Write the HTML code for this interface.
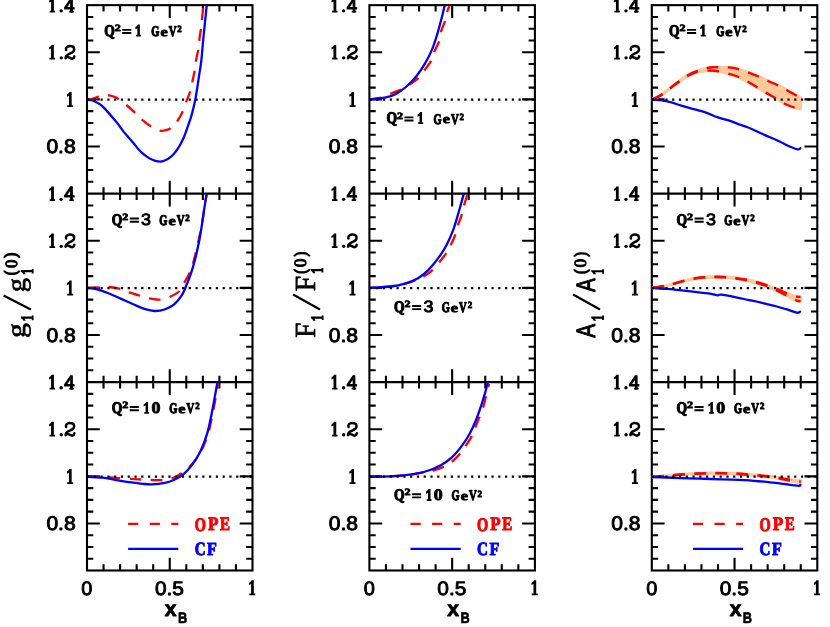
<!DOCTYPE html>
<html><head><meta charset="utf-8"><title>fig</title>
<style>html,body{margin:0;padding:0;background:#fff}svg{display:block;will-change:transform}text{font-kerning:none;text-rendering:geometricPrecision}</style></head>
<body>
<svg width="830" height="627" viewBox="0 0 830 627">
<rect width="830" height="627" fill="#fff"/>
<rect x="87.0" y="5.15" width="165.5" height="565.35" fill="none" stroke="#000" stroke-width="2.1"/>
<line x1="87.0" y1="193.65" x2="252.5" y2="193.65" stroke="#000" stroke-width="2.1"/>
<line x1="87.0" y1="382.1" x2="252.5" y2="382.1" stroke="#000" stroke-width="2.1"/>
<rect x="369.4" y="5.15" width="165.5" height="565.35" fill="none" stroke="#000" stroke-width="2.1"/>
<line x1="369.4" y1="193.65" x2="534.9" y2="193.65" stroke="#000" stroke-width="2.1"/>
<line x1="369.4" y1="382.1" x2="534.9" y2="382.1" stroke="#000" stroke-width="2.1"/>
<rect x="651.8" y="5.15" width="165.5" height="565.35" fill="none" stroke="#000" stroke-width="2.1"/>
<line x1="651.8" y1="193.65" x2="817.3" y2="193.65" stroke="#000" stroke-width="2.1"/>
<line x1="651.8" y1="382.1" x2="817.3" y2="382.1" stroke="#000" stroke-width="2.1"/>
<path d="M103.55,5.15v6.3 M103.55,570.5v-6.3 M103.55,187.35v12.6 M103.55,375.8v12.6 M120.10,5.15v6.3 M120.10,570.5v-6.3 M120.10,187.35v12.6 M120.10,375.8v12.6 M136.65,5.15v6.3 M136.65,570.5v-6.3 M136.65,187.35v12.6 M136.65,375.8v12.6 M153.20,5.15v6.3 M153.20,570.5v-6.3 M153.20,187.35v12.6 M153.20,375.8v12.6 M169.75,5.15v12.8 M169.75,570.5v-12.8 M169.75,180.85v25.6 M169.75,369.3v25.6 M186.30,5.15v6.3 M186.30,570.5v-6.3 M186.30,187.35v12.6 M186.30,375.8v12.6 M202.85,5.15v6.3 M202.85,570.5v-6.3 M202.85,187.35v12.6 M202.85,375.8v12.6 M219.40,5.15v6.3 M219.40,570.5v-6.3 M219.40,187.35v12.6 M219.40,375.8v12.6 M235.95,5.15v6.3 M235.95,570.5v-6.3 M235.95,187.35v12.6 M235.95,375.8v12.6 M87.0,16.93h6.3 M252.5,16.93h-6.3 M87.0,28.71h6.3 M252.5,28.71h-6.3 M87.0,40.48h6.3 M252.5,40.48h-6.3 M87.0,52.26h12.8 M252.5,52.26h-12.8 M87.0,64.04h6.3 M252.5,64.04h-6.3 M87.0,75.82h6.3 M252.5,75.82h-6.3 M87.0,87.60h6.3 M252.5,87.60h-6.3 M87.0,99.38h12.8 M252.5,99.38h-12.8 M87.0,111.15h6.3 M252.5,111.15h-6.3 M87.0,122.93h6.3 M252.5,122.93h-6.3 M87.0,134.71h6.3 M252.5,134.71h-6.3 M87.0,146.49h12.8 M252.5,146.49h-12.8 M87.0,158.27h6.3 M252.5,158.27h-6.3 M87.0,170.04h6.3 M252.5,170.04h-6.3 M87.0,181.82h6.3 M252.5,181.82h-6.3 M87.0,205.43h6.3 M252.5,205.43h-6.3 M87.0,217.21h6.3 M252.5,217.21h-6.3 M87.0,228.98h6.3 M252.5,228.98h-6.3 M87.0,240.76h12.8 M252.5,240.76h-12.8 M87.0,252.54h6.3 M252.5,252.54h-6.3 M87.0,264.32h6.3 M252.5,264.32h-6.3 M87.0,276.10h6.3 M252.5,276.10h-6.3 M87.0,287.88h12.8 M252.5,287.88h-12.8 M87.0,299.65h6.3 M252.5,299.65h-6.3 M87.0,311.43h6.3 M252.5,311.43h-6.3 M87.0,323.21h6.3 M252.5,323.21h-6.3 M87.0,334.99h12.8 M252.5,334.99h-12.8 M87.0,346.77h6.3 M252.5,346.77h-6.3 M87.0,358.54h6.3 M252.5,358.54h-6.3 M87.0,370.32h6.3 M252.5,370.32h-6.3 M87.0,393.88h6.3 M252.5,393.88h-6.3 M87.0,405.66h6.3 M252.5,405.66h-6.3 M87.0,417.43h6.3 M252.5,417.43h-6.3 M87.0,429.21h12.8 M252.5,429.21h-12.8 M87.0,440.99h6.3 M252.5,440.99h-6.3 M87.0,452.77h6.3 M252.5,452.77h-6.3 M87.0,464.55h6.3 M252.5,464.55h-6.3 M87.0,476.33h12.8 M252.5,476.33h-12.8 M87.0,488.10h6.3 M252.5,488.10h-6.3 M87.0,499.88h6.3 M252.5,499.88h-6.3 M87.0,511.66h6.3 M252.5,511.66h-6.3 M87.0,523.44h12.8 M252.5,523.44h-12.8 M87.0,535.22h6.3 M252.5,535.22h-6.3 M87.0,546.99h6.3 M252.5,546.99h-6.3 M87.0,558.77h6.3 M252.5,558.77h-6.3 M385.95,5.15v6.3 M385.95,570.5v-6.3 M385.95,187.35v12.6 M385.95,375.8v12.6 M402.50,5.15v6.3 M402.50,570.5v-6.3 M402.50,187.35v12.6 M402.50,375.8v12.6 M419.05,5.15v6.3 M419.05,570.5v-6.3 M419.05,187.35v12.6 M419.05,375.8v12.6 M435.60,5.15v6.3 M435.60,570.5v-6.3 M435.60,187.35v12.6 M435.60,375.8v12.6 M452.15,5.15v12.8 M452.15,570.5v-12.8 M452.15,180.85v25.6 M452.15,369.3v25.6 M468.70,5.15v6.3 M468.70,570.5v-6.3 M468.70,187.35v12.6 M468.70,375.8v12.6 M485.25,5.15v6.3 M485.25,570.5v-6.3 M485.25,187.35v12.6 M485.25,375.8v12.6 M501.80,5.15v6.3 M501.80,570.5v-6.3 M501.80,187.35v12.6 M501.80,375.8v12.6 M518.35,5.15v6.3 M518.35,570.5v-6.3 M518.35,187.35v12.6 M518.35,375.8v12.6 M369.4,16.93h6.3 M534.9,16.93h-6.3 M369.4,28.71h6.3 M534.9,28.71h-6.3 M369.4,40.48h6.3 M534.9,40.48h-6.3 M369.4,52.26h12.8 M534.9,52.26h-12.8 M369.4,64.04h6.3 M534.9,64.04h-6.3 M369.4,75.82h6.3 M534.9,75.82h-6.3 M369.4,87.60h6.3 M534.9,87.60h-6.3 M369.4,99.38h12.8 M534.9,99.38h-12.8 M369.4,111.15h6.3 M534.9,111.15h-6.3 M369.4,122.93h6.3 M534.9,122.93h-6.3 M369.4,134.71h6.3 M534.9,134.71h-6.3 M369.4,146.49h12.8 M534.9,146.49h-12.8 M369.4,158.27h6.3 M534.9,158.27h-6.3 M369.4,170.04h6.3 M534.9,170.04h-6.3 M369.4,181.82h6.3 M534.9,181.82h-6.3 M369.4,205.43h6.3 M534.9,205.43h-6.3 M369.4,217.21h6.3 M534.9,217.21h-6.3 M369.4,228.98h6.3 M534.9,228.98h-6.3 M369.4,240.76h12.8 M534.9,240.76h-12.8 M369.4,252.54h6.3 M534.9,252.54h-6.3 M369.4,264.32h6.3 M534.9,264.32h-6.3 M369.4,276.10h6.3 M534.9,276.10h-6.3 M369.4,287.88h12.8 M534.9,287.88h-12.8 M369.4,299.65h6.3 M534.9,299.65h-6.3 M369.4,311.43h6.3 M534.9,311.43h-6.3 M369.4,323.21h6.3 M534.9,323.21h-6.3 M369.4,334.99h12.8 M534.9,334.99h-12.8 M369.4,346.77h6.3 M534.9,346.77h-6.3 M369.4,358.54h6.3 M534.9,358.54h-6.3 M369.4,370.32h6.3 M534.9,370.32h-6.3 M369.4,393.88h6.3 M534.9,393.88h-6.3 M369.4,405.66h6.3 M534.9,405.66h-6.3 M369.4,417.43h6.3 M534.9,417.43h-6.3 M369.4,429.21h12.8 M534.9,429.21h-12.8 M369.4,440.99h6.3 M534.9,440.99h-6.3 M369.4,452.77h6.3 M534.9,452.77h-6.3 M369.4,464.55h6.3 M534.9,464.55h-6.3 M369.4,476.33h12.8 M534.9,476.33h-12.8 M369.4,488.10h6.3 M534.9,488.10h-6.3 M369.4,499.88h6.3 M534.9,499.88h-6.3 M369.4,511.66h6.3 M534.9,511.66h-6.3 M369.4,523.44h12.8 M534.9,523.44h-12.8 M369.4,535.22h6.3 M534.9,535.22h-6.3 M369.4,546.99h6.3 M534.9,546.99h-6.3 M369.4,558.77h6.3 M534.9,558.77h-6.3 M668.35,5.15v6.3 M668.35,570.5v-6.3 M668.35,187.35v12.6 M668.35,375.8v12.6 M684.90,5.15v6.3 M684.90,570.5v-6.3 M684.90,187.35v12.6 M684.90,375.8v12.6 M701.45,5.15v6.3 M701.45,570.5v-6.3 M701.45,187.35v12.6 M701.45,375.8v12.6 M718.00,5.15v6.3 M718.00,570.5v-6.3 M718.00,187.35v12.6 M718.00,375.8v12.6 M734.55,5.15v12.8 M734.55,570.5v-12.8 M734.55,180.85v25.6 M734.55,369.3v25.6 M751.10,5.15v6.3 M751.10,570.5v-6.3 M751.10,187.35v12.6 M751.10,375.8v12.6 M767.65,5.15v6.3 M767.65,570.5v-6.3 M767.65,187.35v12.6 M767.65,375.8v12.6 M784.20,5.15v6.3 M784.20,570.5v-6.3 M784.20,187.35v12.6 M784.20,375.8v12.6 M800.75,5.15v6.3 M800.75,570.5v-6.3 M800.75,187.35v12.6 M800.75,375.8v12.6 M651.8,16.93h6.3 M817.3,16.93h-6.3 M651.8,28.71h6.3 M817.3,28.71h-6.3 M651.8,40.48h6.3 M817.3,40.48h-6.3 M651.8,52.26h12.8 M817.3,52.26h-12.8 M651.8,64.04h6.3 M817.3,64.04h-6.3 M651.8,75.82h6.3 M817.3,75.82h-6.3 M651.8,87.60h6.3 M817.3,87.60h-6.3 M651.8,99.38h12.8 M817.3,99.38h-12.8 M651.8,111.15h6.3 M817.3,111.15h-6.3 M651.8,122.93h6.3 M817.3,122.93h-6.3 M651.8,134.71h6.3 M817.3,134.71h-6.3 M651.8,146.49h12.8 M817.3,146.49h-12.8 M651.8,158.27h6.3 M817.3,158.27h-6.3 M651.8,170.04h6.3 M817.3,170.04h-6.3 M651.8,181.82h6.3 M817.3,181.82h-6.3 M651.8,205.43h6.3 M817.3,205.43h-6.3 M651.8,217.21h6.3 M817.3,217.21h-6.3 M651.8,228.98h6.3 M817.3,228.98h-6.3 M651.8,240.76h12.8 M817.3,240.76h-12.8 M651.8,252.54h6.3 M817.3,252.54h-6.3 M651.8,264.32h6.3 M817.3,264.32h-6.3 M651.8,276.10h6.3 M817.3,276.10h-6.3 M651.8,287.88h12.8 M817.3,287.88h-12.8 M651.8,299.65h6.3 M817.3,299.65h-6.3 M651.8,311.43h6.3 M817.3,311.43h-6.3 M651.8,323.21h6.3 M817.3,323.21h-6.3 M651.8,334.99h12.8 M817.3,334.99h-12.8 M651.8,346.77h6.3 M817.3,346.77h-6.3 M651.8,358.54h6.3 M817.3,358.54h-6.3 M651.8,370.32h6.3 M817.3,370.32h-6.3 M651.8,393.88h6.3 M817.3,393.88h-6.3 M651.8,405.66h6.3 M817.3,405.66h-6.3 M651.8,417.43h6.3 M817.3,417.43h-6.3 M651.8,429.21h12.8 M817.3,429.21h-12.8 M651.8,440.99h6.3 M817.3,440.99h-6.3 M651.8,452.77h6.3 M817.3,452.77h-6.3 M651.8,464.55h6.3 M817.3,464.55h-6.3 M651.8,476.33h12.8 M817.3,476.33h-12.8 M651.8,488.10h6.3 M817.3,488.10h-6.3 M651.8,499.88h6.3 M817.3,499.88h-6.3 M651.8,511.66h6.3 M817.3,511.66h-6.3 M651.8,523.44h12.8 M817.3,523.44h-12.8 M651.8,535.22h6.3 M817.3,535.22h-6.3 M651.8,546.99h6.3 M817.3,546.99h-6.3 M651.8,558.77h6.3 M817.3,558.77h-6.3" stroke="#000" stroke-width="2.1" fill="none"/>
<clipPath id="cp00"><rect x="87.0" y="5.15" width="165.5" height="188.45"/></clipPath>
<g clip-path="url(#cp00)">
<path d="M87.5,99.7 C88.4,99.5 90.9,99.1 93.0,98.5 C95.1,97.9 98.1,96.7 99.9,96.2 C101.7,95.7 102.5,95.4 104.0,95.3 C105.5,95.2 107.2,95.1 109.0,95.4 C110.8,95.7 112.7,96.2 114.5,96.9 C116.3,97.6 117.6,98.3 119.7,99.7 C121.8,101.1 124.3,103.2 127.0,105.5 C129.7,107.8 133.3,111.1 135.8,113.5 C138.3,115.9 139.5,117.7 142.2,119.9 C144.9,122.2 148.8,125.2 151.8,127.0 C154.8,128.8 157.9,130.1 160.2,130.7 C162.5,131.2 163.6,130.8 165.5,130.3 C167.4,129.8 169.6,129.1 171.6,127.5 C173.6,125.9 175.8,123.3 177.7,120.5 C179.6,117.7 181.5,114.1 183.0,110.9 C184.5,107.7 185.2,104.8 186.5,101.2 C187.8,97.6 189.9,92.8 190.9,89.5 C191.9,86.2 191.9,84.3 192.5,81.1 C193.1,77.9 194.1,74.0 194.7,70.5 C195.3,67.0 195.4,63.8 196.1,60.0 C196.8,56.2 198.1,51.4 198.7,47.8 C199.3,44.2 199.1,41.9 199.5,38.3 C199.9,34.7 201.0,29.6 201.4,26.3 C201.8,23.0 201.7,21.6 202.0,18.3 C202.3,15.0 203.2,8.4 203.5,6.4" fill="none" stroke="#ff0000" stroke-width="2.3" stroke-dasharray="11.7 9.4" stroke-dashoffset="0"/>
<path d="M87.5,99.7 C88.2,99.8 90.3,99.9 91.5,100.2 C92.7,100.5 93.3,100.8 94.6,101.4 C95.9,102.0 97.9,102.9 99.5,104.0 C101.1,105.1 101.9,105.6 104.3,108.1 C106.7,110.6 111.5,116.3 113.9,119.1 C116.3,121.9 117.1,122.8 118.7,124.9 C120.3,127.0 122.0,129.6 123.6,131.6 C125.2,133.6 126.8,135.3 128.4,137.2 C130.0,139.0 131.3,140.5 133.2,142.7 C135.1,144.9 136.9,147.9 139.6,150.5 C142.3,153.1 145.8,156.3 149.3,158.2 C152.8,160.0 157.3,161.8 160.8,161.6 C164.3,161.4 167.6,159.4 170.5,157.2 C173.4,154.9 175.9,151.5 178.2,148.1 C180.4,144.7 182.4,140.6 184.0,137.0 C185.6,133.4 186.5,130.1 187.8,126.4 C189.1,122.7 190.4,119.3 191.7,114.8 C192.9,110.3 194.1,105.7 195.3,99.5 C196.5,93.3 197.8,84.1 198.8,77.5 C199.8,70.9 200.7,66.3 201.4,60.0 C202.1,53.7 202.3,49.0 203.2,39.9 C204.1,30.8 206.1,11.3 206.7,5.6" fill="none" stroke="#0000ff" stroke-width="2.3" stroke-linecap="round"/>
</g>
<line x1="87.0" y1="99.58" x2="252.5" y2="99.58" stroke="#000" stroke-width="2.2" stroke-dasharray="2.2 4.58"/>
<clipPath id="cp01"><rect x="369.4" y="5.15" width="165.5" height="188.45"/></clipPath>
<g clip-path="url(#cp01)">
<path d="M369.9,99.4 C371.8,99.1 377.4,98.6 381.0,97.6 C384.6,96.6 388.4,94.6 391.8,93.2 C395.2,91.8 398.6,90.6 401.5,89.2 C404.4,87.8 406.8,86.4 409.0,85.0 C411.2,83.6 412.9,82.3 414.6,81.0 C416.3,79.7 417.2,79.2 419.0,77.2 C420.8,75.2 423.1,72.1 425.2,69.3 C427.2,66.5 429.9,63.3 431.3,60.5 C432.8,57.7 432.6,55.8 433.9,52.6 C435.2,49.4 438.0,44.7 439.2,41.2 C440.4,37.7 440.0,35.1 441.0,31.6 C442.0,28.1 444.4,23.4 445.4,20.2 C446.4,17.0 446.5,14.7 447.1,12.3 C447.7,10.0 448.9,7.1 449.2,6.1" fill="none" stroke="#ff0000" stroke-width="2.3" stroke-dasharray="11.7 9.4" stroke-dashoffset="0"/>
<path d="M369.9,99.4 C372.4,99.1 380.6,98.5 384.8,97.6 C389.1,96.7 391.9,96.0 395.4,94.2 C398.9,92.4 402.4,90.0 405.9,87.0 C409.4,84.0 413.2,80.3 416.4,76.3 C419.6,72.3 422.6,67.7 425.2,63.2 C427.8,58.7 430.1,54.1 432.2,49.1 C434.2,44.1 435.9,38.6 437.5,33.3 C439.1,28.0 440.6,22.0 441.8,17.5 C443.0,13.0 444.1,8.0 444.5,6.1" fill="none" stroke="#0000ff" stroke-width="2.3" stroke-linecap="round"/>
</g>
<line x1="369.4" y1="99.58" x2="534.9" y2="99.58" stroke="#000" stroke-width="2.2" stroke-dasharray="2.2 4.58"/>
<clipPath id="cp02"><rect x="651.8" y="5.15" width="165.5" height="188.45"/></clipPath>
<g clip-path="url(#cp02)">
<path d="M652.3,99.6 C654.0,98.6 659.0,96.5 662.8,93.9 C666.6,91.3 671.0,87.3 675.1,84.2 C679.2,81.1 683.6,77.7 687.4,75.4 C691.2,73.2 694.1,72.0 697.9,70.7 C701.7,69.4 706.4,68.1 710.2,67.5 C714.0,66.9 717.2,67.3 720.7,67.3 C724.2,67.3 728.2,67.4 731.2,67.7 C734.2,68.0 736.1,68.5 738.8,69.3 C741.5,70.0 744.3,71.0 747.5,72.2 C750.7,73.4 754.5,74.8 758.0,76.3 C761.5,77.8 765.1,79.6 768.6,81.2 C772.1,82.8 775.9,84.4 779.1,86.0 C782.3,87.6 784.8,89.0 787.9,90.7 C791.0,92.4 795.4,94.9 797.5,96.0 C799.6,97.1 800.0,97.2 800.5,97.5 L800.5,108.6 L797.5,108.2 L791.4,106.5 L784.4,103.5 L775.6,98.2 L765.1,92.1 L756.3,86.8 L747.5,81.6 L738.8,77.0 L731.2,74.4 L720.7,71.7 L710.2,70.5 L697.9,71.6 L687.4,76.0 L675.1,84.6 L662.8,94.1 L652.3,99.6 Z" fill="#ffc999" stroke="#ffc999" stroke-width="3.2" stroke-linejoin="round"/>
<path d="M652.3,99.6 C654.0,98.6 659.0,96.5 662.8,93.9 C666.6,91.3 671.0,87.3 675.1,84.2 C679.2,81.1 683.6,77.7 687.4,75.4 C691.2,73.2 694.1,72.0 697.9,70.7 C701.7,69.4 706.4,68.1 710.2,67.5 C714.0,66.9 717.2,67.3 720.7,67.3 C724.2,67.3 728.2,67.4 731.2,67.7 C734.2,68.0 736.1,68.5 738.8,69.3 C741.5,70.0 744.3,71.0 747.5,72.2 C750.7,73.4 754.5,74.8 758.0,76.3 C761.5,77.8 765.1,79.6 768.6,81.2 C772.1,82.8 775.9,84.4 779.1,86.0 C782.3,87.6 784.8,89.0 787.9,90.7 C791.0,92.4 795.4,94.9 797.5,96.0 C799.6,97.1 800.0,97.2 800.5,97.5" fill="none" stroke="#ff0000" stroke-width="2.3" stroke-dasharray="11.7 9.4"/>
<path d="M652.3,99.6 C654.0,98.7 659.0,96.6 662.8,94.1 C666.6,91.6 671.0,87.6 675.1,84.6 C679.2,81.6 683.6,78.2 687.4,76.0 C691.2,73.8 694.1,72.5 697.9,71.6 C701.7,70.7 706.4,70.5 710.2,70.5 C714.0,70.5 717.2,71.0 720.7,71.7 C724.2,72.4 728.2,73.5 731.2,74.4 C734.2,75.3 736.1,75.8 738.8,77.0 C741.5,78.2 744.6,80.0 747.5,81.6 C750.4,83.2 753.4,85.0 756.3,86.8 C759.2,88.5 761.9,90.2 765.1,92.1 C768.3,94.0 772.4,96.3 775.6,98.2 C778.8,100.1 781.8,102.1 784.4,103.5 C787.0,104.9 789.2,105.7 791.4,106.5 C793.6,107.3 796.0,107.9 797.5,108.2 C799.0,108.5 800.0,108.5 800.5,108.6" fill="none" stroke="#ff0000" stroke-width="2.3" stroke-dasharray="11.7 9.4"/>
<path d="M652.3,99.6 C654.6,99.9 661.6,100.2 666.3,101.2 C671.0,102.2 676.0,104.0 680.4,105.3 C684.8,106.6 688.2,107.5 692.6,108.8 C697.0,110.0 702.6,111.4 706.7,112.8 C710.8,114.2 713.7,116.0 717.2,117.2 C720.7,118.4 723.9,119.0 727.7,120.2 C731.5,121.4 736.7,123.4 740.0,124.6 C743.3,125.8 743.3,125.5 747.5,127.2 C751.7,128.9 759.8,132.8 765.1,135.1 C770.4,137.4 775.0,139.3 779.1,141.2 C783.2,143.1 786.5,145.2 789.6,146.5 C792.7,147.8 795.7,149.0 797.5,149.3 C799.3,149.6 799.9,148.4 800.4,148.2" fill="none" stroke="#0000ff" stroke-width="2.3" stroke-linecap="round"/>
</g>
<line x1="651.8" y1="99.58" x2="817.3" y2="99.58" stroke="#000" stroke-width="2.2" stroke-dasharray="2.2 4.58"/>
<clipPath id="cp10"><rect x="87.0" y="193.65" width="165.5" height="188.45"/></clipPath>
<g clip-path="url(#cp10)">
<path d="M87.5,287.9 C89.7,287.8 97.1,287.6 100.7,287.5 C104.3,287.4 105.5,286.7 109.0,287.0 C112.5,287.3 118.0,288.2 121.5,289.2 C125.0,290.1 126.7,291.6 129.8,292.7 C132.9,293.8 136.9,294.9 140.2,295.8 C143.5,296.7 146.7,297.7 149.5,298.3 C152.3,298.9 154.9,299.3 157.0,299.5 C159.1,299.7 159.8,299.8 162.0,299.3 C164.2,298.9 167.2,298.2 170.2,296.8 C173.1,295.4 177.4,293.2 179.7,291.0 C182.0,288.8 182.1,286.7 183.9,283.4 C185.7,280.1 188.7,275.3 190.5,271.0 C192.3,266.7 193.2,263.0 194.6,257.6 C196.0,252.2 197.7,244.6 199.0,238.5 C200.3,232.4 201.4,226.4 202.3,221.1 C203.2,215.8 203.8,211.1 204.5,206.6 C205.2,202.1 206.3,196.2 206.7,194.1" fill="none" stroke="#ff0000" stroke-width="2.3" stroke-dasharray="11.7 9.4" stroke-dashoffset="0"/>
<path d="M87.5,288.0 C89.1,288.2 93.4,288.4 97.0,289.3 C100.6,290.2 105.1,291.9 109.1,293.5 C113.1,295.1 117.1,297.1 121.1,298.9 C125.1,300.7 129.2,302.6 133.2,304.3 C137.2,306.0 141.6,308.1 145.2,309.2 C148.8,310.3 151.7,310.9 154.9,311.0 C158.1,311.1 161.3,310.6 164.5,309.5 C167.7,308.4 171.4,306.6 174.2,304.3 C177.0,302.0 179.6,298.6 181.4,295.9 C183.2,293.2 183.7,291.8 185.3,288.0 C186.9,284.2 189.4,277.9 191.1,273.0 C192.8,268.1 193.9,264.0 195.3,258.5 C196.7,253.0 198.2,246.0 199.4,239.8 C200.6,233.6 201.6,226.6 202.5,221.1 C203.4,215.6 203.9,211.1 204.6,206.6 C205.3,202.1 206.3,196.2 206.7,194.1" fill="none" stroke="#0000ff" stroke-width="2.3" stroke-linecap="round"/>
</g>
<line x1="87.0" y1="288.07" x2="252.5" y2="288.07" stroke="#000" stroke-width="2.2" stroke-dasharray="2.2 4.58"/>
<clipPath id="cp11"><rect x="369.4" y="193.65" width="165.5" height="188.45"/></clipPath>
<g clip-path="url(#cp11)">
<path d="M369.9,287.9 C373.4,287.6 385.2,287.1 391.1,286.4 C397.1,285.7 401.1,284.8 405.6,283.6 C410.1,282.4 415.0,280.4 418.1,279.2 C421.2,277.9 422.1,277.5 424.3,276.1 C426.6,274.7 429.0,273.3 431.6,270.9 C434.2,268.5 437.5,264.5 439.9,261.6 C442.3,258.7 444.4,255.9 446.1,253.3 C447.8,250.7 448.6,249.1 450.2,246.0 C451.8,242.9 454.2,237.9 455.4,234.6 C456.6,231.3 456.4,229.6 457.5,226.3 C458.6,223.0 460.7,218.2 461.7,214.9 C462.7,211.6 462.8,209.9 463.7,206.6 C464.6,203.3 466.7,197.1 467.3,195.2" fill="none" stroke="#ff0000" stroke-width="2.3" stroke-dasharray="11.7 9.4" stroke-dashoffset="8"/>
<path d="M369.9,287.9 C373.4,287.7 385.2,287.2 391.1,286.5 C397.1,285.8 401.1,284.8 405.6,283.4 C410.1,282.0 414.3,280.4 418.1,278.2 C421.9,275.9 425.1,273.4 428.5,269.9 C431.9,266.4 435.7,261.7 438.8,257.4 C441.9,253.1 444.7,248.6 447.1,243.9 C449.5,239.2 451.5,234.6 453.4,229.4 C455.3,224.2 456.8,218.7 458.5,212.8 C460.2,206.9 462.8,197.2 463.7,194.1" fill="none" stroke="#0000ff" stroke-width="2.3" stroke-linecap="round"/>
</g>
<line x1="369.4" y1="288.07" x2="534.9" y2="288.07" stroke="#000" stroke-width="2.2" stroke-dasharray="2.2 4.58"/>
<clipPath id="cp12"><rect x="651.8" y="193.65" width="165.5" height="188.45"/></clipPath>
<g clip-path="url(#cp12)">
<path d="M652.3,287.8 C654.7,287.4 661.8,286.7 666.7,285.6 C671.6,284.5 676.8,282.6 681.9,281.3 C687.0,280.0 692.4,278.7 697.1,278.0 C701.8,277.3 705.8,277.1 710.1,276.9 C714.4,276.7 718.8,276.7 723.1,276.9 C727.4,277.1 731.8,277.4 736.1,278.0 C740.4,278.6 744.8,279.2 749.1,280.2 C753.4,281.1 757.8,282.4 762.1,283.7 C766.5,285.0 771.2,286.7 775.2,288.2 C779.2,289.7 782.4,291.5 786.0,292.9 C789.6,294.3 794.5,296.0 796.9,296.6 C799.3,297.2 799.9,296.8 800.5,296.8 L800.5,301.2 L796.9,300.6 L786.0,295.3 L775.2,289.9 L762.1,284.6 L749.1,280.9 L736.1,278.5 L723.1,277.3 L710.1,277.2 L697.1,278.2 L681.9,281.5 L666.7,285.7 L652.3,287.8 Z" fill="#ffc999" stroke="#ffc999" stroke-width="3.2" stroke-linejoin="round"/>
<path d="M652.3,287.8 C654.7,287.4 661.8,286.7 666.7,285.6 C671.6,284.5 676.8,282.6 681.9,281.3 C687.0,280.0 692.4,278.7 697.1,278.0 C701.8,277.3 705.8,277.1 710.1,276.9 C714.4,276.7 718.8,276.7 723.1,276.9 C727.4,277.1 731.8,277.4 736.1,278.0 C740.4,278.6 744.8,279.2 749.1,280.2 C753.4,281.1 757.8,282.4 762.1,283.7 C766.5,285.0 771.2,286.7 775.2,288.2 C779.2,289.7 782.4,291.5 786.0,292.9 C789.6,294.3 794.5,296.0 796.9,296.6 C799.3,297.2 799.9,296.8 800.5,296.8" fill="none" stroke="#ff0000" stroke-width="2.3" stroke-dasharray="11.7 9.4"/>
<path d="M652.3,287.8 C654.7,287.4 661.8,286.8 666.7,285.7 C671.6,284.6 676.8,282.8 681.9,281.5 C687.0,280.2 692.4,278.9 697.1,278.2 C701.8,277.5 705.8,277.3 710.1,277.2 C714.4,277.1 718.8,277.1 723.1,277.3 C727.4,277.5 731.8,277.9 736.1,278.5 C740.4,279.1 744.8,279.9 749.1,280.9 C753.4,281.9 757.8,283.1 762.1,284.6 C766.5,286.1 771.2,288.1 775.2,289.9 C779.2,291.7 782.4,293.5 786.0,295.3 C789.6,297.1 794.5,299.6 796.9,300.6 C799.3,301.6 799.9,301.1 800.5,301.2" fill="none" stroke="#ff0000" stroke-width="2.3" stroke-dasharray="11.7 9.4"/>
<path d="M652.3,287.9 C654.7,288.1 661.8,288.5 666.7,288.9 C671.6,289.3 676.8,289.9 681.9,290.4 C687.0,290.9 692.4,291.6 697.1,292.1 C701.8,292.6 706.7,293.1 710.1,293.6 C713.5,294.2 715.9,295.2 717.7,295.4 C719.5,295.6 717.8,294.4 720.9,294.7 C724.0,295.0 731.4,296.4 736.1,297.3 C740.8,298.2 744.8,299.2 749.1,300.1 C753.4,301.0 757.8,301.9 762.1,302.9 C766.5,303.9 771.2,304.9 775.2,306.0 C779.2,307.1 782.4,308.1 786.0,309.2 C789.6,310.3 794.5,312.3 796.9,312.7 C799.2,313.1 799.6,311.8 800.1,311.6" fill="none" stroke="#0000ff" stroke-width="2.3" stroke-linecap="round"/>
</g>
<line x1="651.8" y1="288.07" x2="817.3" y2="288.07" stroke="#000" stroke-width="2.2" stroke-dasharray="2.2 4.58"/>
<clipPath id="cp20"><rect x="87.0" y="382.1" width="165.5" height="188.45"/></clipPath>
<g clip-path="url(#cp20)">
<path d="M87.5,476.6 C90.0,476.6 97.6,476.5 102.3,476.7 C107.0,476.9 110.8,477.4 115.7,477.8 C120.6,478.2 127.1,478.5 131.4,478.8 C135.7,479.1 138.1,479.3 141.4,479.5 C144.8,479.7 148.0,479.9 151.5,480.0 C155.0,480.1 159.1,480.3 162.6,480.0 C166.1,479.7 169.5,479.3 172.7,478.2 C175.9,477.1 178.4,475.6 181.6,473.3 C184.8,471.0 188.4,468.3 191.7,464.6 C195.0,460.9 198.4,456.1 201.2,450.9 C204.0,445.6 206.4,439.4 208.3,433.1 C210.2,426.8 211.5,419.3 212.8,413.0 C214.1,406.7 215.2,400.1 216.1,395.1 C217.0,390.1 217.9,384.9 218.3,382.8" fill="none" stroke="#ff0000" stroke-width="2.3" stroke-dasharray="11.7 9.4" stroke-dashoffset="0"/>
<path d="M87.5,476.8 C90.0,476.9 97.6,477.2 102.3,477.7 C107.0,478.2 111.2,479.2 115.7,480.0 C120.2,480.8 124.6,481.6 129.1,482.2 C133.6,482.8 138.8,483.4 142.5,483.8 C146.2,484.2 147.8,484.5 151.5,484.4 C155.2,484.2 161.2,483.6 164.9,482.9 C168.6,482.2 170.8,481.4 173.8,480.0 C176.8,478.6 179.7,477.2 182.7,474.8 C185.7,472.4 188.7,469.4 191.7,465.4 C194.7,461.4 198.0,456.3 200.6,450.9 C203.2,445.5 205.4,439.4 207.3,433.1 C209.2,426.8 210.5,419.3 211.8,413.0 C213.1,406.7 214.2,400.1 215.1,395.1 C216.0,390.1 216.9,384.9 217.3,382.8" fill="none" stroke="#0000ff" stroke-width="2.3" stroke-linecap="round"/>
</g>
<line x1="87.0" y1="476.53" x2="252.5" y2="476.53" stroke="#000" stroke-width="2.2" stroke-dasharray="2.2 4.58"/>
<clipPath id="cp21"><rect x="369.4" y="382.1" width="165.5" height="188.45"/></clipPath>
<g clip-path="url(#cp21)">
<path d="M369.9,476.8 C373.8,476.7 386.6,476.6 393.5,476.2 C400.4,475.8 405.8,475.3 411.4,474.5 C417.0,473.7 423.3,472.3 427.0,471.6 C430.7,470.9 430.9,471.2 433.7,470.4 C436.5,469.6 440.5,468.2 443.7,466.6 C446.9,465.0 449.9,463.2 452.7,461.0 C455.5,458.8 458.4,455.6 460.5,453.2 C462.6,450.8 463.1,449.7 465.0,446.9 C466.9,444.1 470.2,439.1 471.7,436.4 C473.2,433.7 472.8,433.6 473.9,430.8 C475.0,428.0 476.8,423.8 478.4,419.7 C480.0,415.6 482.2,410.1 483.5,406.0 C484.8,401.9 485.3,398.8 486.2,395.1 C487.1,391.4 488.6,385.8 489.1,383.9" fill="none" stroke="#ff0000" stroke-width="2.3" stroke-dasharray="11.7 9.4" stroke-dashoffset="0"/>
<path d="M369.9,476.8 C373.8,476.7 386.6,476.6 393.5,476.2 C400.4,475.8 405.8,475.3 411.4,474.4 C417.0,473.5 422.2,472.5 427.0,471.0 C431.8,469.5 436.3,467.6 440.4,465.4 C444.5,463.2 448.2,460.6 451.6,457.6 C455.0,454.6 457.5,451.5 460.5,447.6 C463.5,443.7 466.8,438.9 469.4,434.2 C472.0,429.5 474.1,424.7 476.1,419.7 C478.2,414.7 480.2,408.5 481.7,404.0 C483.2,399.5 484.1,396.4 485.1,392.9 C486.1,389.4 487.3,384.5 487.7,382.8" fill="none" stroke="#0000ff" stroke-width="2.3" stroke-linecap="round"/>
</g>
<line x1="369.4" y1="476.53" x2="534.9" y2="476.53" stroke="#000" stroke-width="2.2" stroke-dasharray="2.2 4.58"/>
<clipPath id="cp22"><rect x="651.8" y="382.1" width="165.5" height="188.45"/></clipPath>
<g clip-path="url(#cp22)">
<path d="M652.3,476.8 C654.7,476.6 661.8,476.2 666.7,475.8 C671.6,475.4 676.8,474.7 681.9,474.3 C687.0,473.9 692.4,473.7 697.1,473.5 C701.8,473.3 705.8,473.2 710.1,473.1 C714.4,473.0 718.8,473.0 723.1,473.1 C727.4,473.2 731.8,473.3 736.1,473.5 C740.4,473.7 744.8,474.1 749.1,474.5 C753.4,474.9 757.8,475.2 762.1,475.7 C766.5,476.2 771.2,476.7 775.2,477.3 C779.2,477.9 782.4,478.5 786.0,479.1 C789.6,479.7 794.5,480.4 796.9,480.7 C799.3,481.0 799.9,480.9 800.5,481.0 L800.5,482.2 L796.9,481.8 L786.0,479.9 L775.2,477.9 L762.1,476.1 L749.1,474.9 L736.1,473.8 L723.1,473.3 L710.1,473.3 L697.1,473.7 L681.9,474.5 L666.7,475.9 L652.3,476.8 Z" fill="#ffc999" stroke="#ffc999" stroke-width="3.2" stroke-linejoin="round"/>
<path d="M652.3,476.8 C654.7,476.6 661.8,476.2 666.7,475.8 C671.6,475.4 676.8,474.7 681.9,474.3 C687.0,473.9 692.4,473.7 697.1,473.5 C701.8,473.3 705.8,473.2 710.1,473.1 C714.4,473.0 718.8,473.0 723.1,473.1 C727.4,473.2 731.8,473.3 736.1,473.5 C740.4,473.7 744.8,474.1 749.1,474.5 C753.4,474.9 757.8,475.2 762.1,475.7 C766.5,476.2 771.2,476.7 775.2,477.3 C779.2,477.9 782.4,478.5 786.0,479.1 C789.6,479.7 794.5,480.4 796.9,480.7 C799.3,481.0 799.9,480.9 800.5,481.0" fill="none" stroke="#ff0000" stroke-width="2.3" stroke-dasharray="11.7 9.4"/>
<path d="M652.3,476.8 C654.7,476.6 661.8,476.3 666.7,475.9 C671.6,475.5 676.8,474.9 681.9,474.5 C687.0,474.1 692.4,473.9 697.1,473.7 C701.8,473.5 705.8,473.4 710.1,473.3 C714.4,473.2 718.8,473.2 723.1,473.3 C727.4,473.4 731.8,473.5 736.1,473.8 C740.4,474.1 744.8,474.5 749.1,474.9 C753.4,475.3 757.8,475.6 762.1,476.1 C766.5,476.6 771.2,477.3 775.2,477.9 C779.2,478.5 782.4,479.2 786.0,479.9 C789.6,480.5 794.5,481.4 796.9,481.8 C799.3,482.2 799.9,482.1 800.5,482.2" fill="none" stroke="#ff0000" stroke-width="2.3" stroke-dasharray="11.7 9.4"/>
<path d="M652.3,477.1 C654.7,477.2 660.7,477.3 666.7,477.5 C672.7,477.7 681.2,478.1 688.4,478.4 C695.6,478.6 702.9,478.8 710.1,479.0 C717.3,479.2 724.6,479.4 731.8,479.7 C739.0,480.0 747.7,480.4 753.5,480.8 C759.3,481.2 762.2,481.5 766.5,481.9 C770.8,482.3 775.2,482.9 779.5,483.4 C783.8,483.9 789.2,484.7 792.5,485.1 C795.8,485.5 797.7,485.9 799.0,485.8 C800.3,485.8 800.2,485.0 800.4,484.8" fill="none" stroke="#0000ff" stroke-width="2.3" stroke-linecap="round"/>
</g>
<line x1="651.8" y1="476.53" x2="817.3" y2="476.53" stroke="#000" stroke-width="2.2" stroke-dasharray="2.2 4.58"/>
<path transform="translate(49.60,12.50)" d="M0,0 H5.50 V-1.8 H4.30 V-14.60 H2.00 C1.60,-13.30 0.60,-12.60 -0.50,-12.20 V-9.90 C0.30,-10.10 1.00,-10.40 1.50,-10.90 V-1.8 H0 Z" fill="#000"/>
<circle cx="61.15" cy="10.85" r="1.7" fill="#000"/>
<text transform="matrix(0.9327 0 0 0.9593 64.32 11.90)" font-family="Liberation Sans, sans-serif" font-weight="normal" font-size="20" fill="#000" stroke="#000" stroke-width="1.27" stroke-linejoin="round">4</text>
<rect x="69.30" y="10.80" width="4.5" height="1.75" fill="#000"/>
<path transform="translate(49.50,59.51)" d="M0,0 H5.60 V-1.8 H4.35 V-14.60 H2.05 C1.65,-13.30 0.65,-12.60 -0.45,-12.20 V-9.90 C0.35,-10.10 1.05,-10.40 1.55,-10.90 V-1.8 H0 Z" fill="#000"/>
<circle cx="61.25" cy="57.86" r="1.7" fill="#000"/>
<path d="M66.1,50.1 C66.1,49.7 65.8,48.8 66.1,48.2 C66.3,47.6 66.9,46.9 67.6,46.6 C68.2,46.2 69.1,46.0 70.0,46.0 C70.9,46.0 72.1,46.3 72.8,46.7 C73.5,47.1 73.9,47.8 74.0,48.5 C74.2,49.1 74.2,49.9 73.9,50.6 C73.5,51.3 72.9,51.9 72.1,52.5 C71.2,53.1 69.6,53.6 68.6,54.2 C67.6,54.8 66.7,55.4 66.2,56.1 C65.7,56.7 65.7,57.8 65.6,58.1 M65.6,58.1 C65.8,58.0 66.4,57.1 67.0,57.0 C67.6,56.9 68.5,57.2 69.2,57.5 C70.0,57.7 71.0,58.5 71.7,58.6 C72.4,58.7 73.1,58.5 73.6,58.1 C74.0,57.8 74.2,56.7 74.3,56.4" fill="none" stroke="#000" stroke-width="2.5" stroke-linecap="round" stroke-linejoin="round"/>
<path transform="translate(67.15,106.98)" d="M0,0 H6.00 V-1.8 H4.50 V-14.90 H2.30 C1.90,-13.60 0.90,-12.90 -0.20,-12.50 V-10.20 C0.60,-10.40 1.30,-10.70 1.80,-11.20 V-1.8 H0 Z" fill="#000"/>
<text transform="matrix(1.0534 0 0 0.9852 46.40 153.47)" font-family="Liberation Sans, sans-serif" font-weight="normal" font-size="20" fill="#000" stroke="#000" stroke-width="0.93" stroke-linejoin="round">0.8</text>
<path transform="translate(49.60,201.00)" d="M0,0 H5.50 V-1.8 H4.30 V-14.60 H2.00 C1.60,-13.30 0.60,-12.60 -0.50,-12.20 V-9.90 C0.30,-10.10 1.00,-10.40 1.50,-10.90 V-1.8 H0 Z" fill="#000"/>
<circle cx="61.15" cy="199.35" r="1.7" fill="#000"/>
<text transform="matrix(0.9327 0 0 0.9593 64.32 200.40)" font-family="Liberation Sans, sans-serif" font-weight="normal" font-size="20" fill="#000" stroke="#000" stroke-width="1.27" stroke-linejoin="round">4</text>
<rect x="69.30" y="199.30" width="4.5" height="1.75" fill="#000"/>
<path transform="translate(49.50,248.01)" d="M0,0 H5.60 V-1.8 H4.35 V-14.60 H2.05 C1.65,-13.30 0.65,-12.60 -0.45,-12.20 V-9.90 C0.35,-10.10 1.05,-10.40 1.55,-10.90 V-1.8 H0 Z" fill="#000"/>
<circle cx="61.25" cy="246.36" r="1.7" fill="#000"/>
<path d="M66.1,238.6 C66.1,238.2 65.8,237.3 66.1,236.7 C66.3,236.1 66.9,235.4 67.6,235.1 C68.2,234.7 69.1,234.5 70.0,234.5 C70.9,234.5 72.1,234.8 72.8,235.2 C73.5,235.6 73.9,236.3 74.0,237.0 C74.2,237.6 74.2,238.4 73.9,239.1 C73.5,239.8 72.9,240.4 72.1,241.0 C71.2,241.6 69.6,242.1 68.6,242.7 C67.6,243.3 66.7,243.9 66.2,244.6 C65.7,245.2 65.7,246.3 65.6,246.6 M65.6,246.6 C65.8,246.5 66.4,245.6 67.0,245.5 C67.6,245.4 68.5,245.7 69.2,246.0 C70.0,246.2 71.0,247.0 71.7,247.1 C72.4,247.2 73.1,247.0 73.6,246.6 C74.0,246.3 74.2,245.2 74.3,244.9" fill="none" stroke="#000" stroke-width="2.5" stroke-linecap="round" stroke-linejoin="round"/>
<path transform="translate(67.15,295.47)" d="M0,0 H6.00 V-1.8 H4.50 V-14.90 H2.30 C1.90,-13.60 0.90,-12.90 -0.20,-12.50 V-10.20 C0.60,-10.40 1.30,-10.70 1.80,-11.20 V-1.8 H0 Z" fill="#000"/>
<text transform="matrix(1.0534 0 0 0.9852 46.40 341.97)" font-family="Liberation Sans, sans-serif" font-weight="normal" font-size="20" fill="#000" stroke="#000" stroke-width="0.93" stroke-linejoin="round">0.8</text>
<path transform="translate(49.60,389.45)" d="M0,0 H5.50 V-1.8 H4.30 V-14.60 H2.00 C1.60,-13.30 0.60,-12.60 -0.50,-12.20 V-9.90 C0.30,-10.10 1.00,-10.40 1.50,-10.90 V-1.8 H0 Z" fill="#000"/>
<circle cx="61.15" cy="387.80" r="1.7" fill="#000"/>
<text transform="matrix(0.9327 0 0 0.9593 64.32 388.85)" font-family="Liberation Sans, sans-serif" font-weight="normal" font-size="20" fill="#000" stroke="#000" stroke-width="1.27" stroke-linejoin="round">4</text>
<rect x="69.30" y="387.75" width="4.5" height="1.75" fill="#000"/>
<path transform="translate(49.50,436.46)" d="M0,0 H5.60 V-1.8 H4.35 V-14.60 H2.05 C1.65,-13.30 0.65,-12.60 -0.45,-12.20 V-9.90 C0.35,-10.10 1.05,-10.40 1.55,-10.90 V-1.8 H0 Z" fill="#000"/>
<circle cx="61.25" cy="434.81" r="1.7" fill="#000"/>
<path d="M66.1,427.0 C66.1,426.7 65.8,425.7 66.1,425.1 C66.3,424.5 66.9,423.9 67.6,423.5 C68.2,423.2 69.1,422.9 70.0,423.0 C70.9,423.0 72.1,423.2 72.8,423.6 C73.5,424.0 73.9,424.7 74.0,425.4 C74.2,426.1 74.2,426.9 73.9,427.6 C73.5,428.2 72.9,428.9 72.1,429.4 C71.2,430.0 69.6,430.5 68.6,431.1 C67.6,431.7 66.7,432.4 66.2,433.0 C65.7,433.7 65.7,434.7 65.6,435.1 M65.6,435.1 C65.8,434.9 66.4,434.1 67.0,434.0 C67.6,433.9 68.5,434.2 69.2,434.4 C70.0,434.7 71.0,435.4 71.7,435.6 C72.4,435.7 73.1,435.5 73.6,435.1 C74.0,434.7 74.2,433.6 74.3,433.3" fill="none" stroke="#000" stroke-width="2.5" stroke-linecap="round" stroke-linejoin="round"/>
<path transform="translate(67.15,483.93)" d="M0,0 H6.00 V-1.8 H4.50 V-14.90 H2.30 C1.90,-13.60 0.90,-12.90 -0.20,-12.50 V-10.20 C0.60,-10.40 1.30,-10.70 1.80,-11.20 V-1.8 H0 Z" fill="#000"/>
<text transform="matrix(1.0534 0 0 0.9852 46.40 530.42)" font-family="Liberation Sans, sans-serif" font-weight="normal" font-size="20" fill="#000" stroke="#000" stroke-width="0.93" stroke-linejoin="round">0.8</text>
<text transform="matrix(0.9989 0 0 0.9710 81.34 594.59)" font-family="Liberation Sans, sans-serif" font-weight="normal" font-size="20" fill="#000" stroke="#000" stroke-width="0.96" stroke-linejoin="round">0</text>
<text transform="matrix(1.0446 0 0 0.9710 154.91 594.59)" font-family="Liberation Sans, sans-serif" font-weight="normal" font-size="20" fill="#000" stroke="#000" stroke-width="0.94" stroke-linejoin="round">0.5</text>
<path transform="translate(249.30,595.20)" d="M0,0 H6.00 V-1.8 H4.50 V-14.90 H2.30 C1.90,-13.60 0.90,-12.90 -0.20,-12.50 V-10.20 C0.60,-10.40 1.30,-10.70 1.80,-11.20 V-1.8 H0 Z" fill="#000"/>
<text transform="matrix(1.0609 0 0 1.0789 164.85 616.20)" font-family="Liberation Sans, sans-serif" font-weight="bold" font-size="20" fill="#000" stroke="#000" stroke-width="0.84" stroke-linejoin="round">x</text>
<text transform="matrix(0.6395 0 0 0.7558 177.99 623.15)" font-family="Liberation Sans, sans-serif" font-weight="bold" font-size="20" fill="#000" stroke="#000" stroke-width="0.86" stroke-linejoin="round">B</text>
<path transform="translate(332.00,12.50)" d="M0,0 H5.50 V-1.8 H4.30 V-14.60 H2.00 C1.60,-13.30 0.60,-12.60 -0.50,-12.20 V-9.90 C0.30,-10.10 1.00,-10.40 1.50,-10.90 V-1.8 H0 Z" fill="#000"/>
<circle cx="343.55" cy="10.85" r="1.7" fill="#000"/>
<text transform="matrix(0.9327 0 0 0.9593 346.72 11.90)" font-family="Liberation Sans, sans-serif" font-weight="normal" font-size="20" fill="#000" stroke="#000" stroke-width="1.27" stroke-linejoin="round">4</text>
<rect x="351.70" y="10.80" width="4.5" height="1.75" fill="#000"/>
<path transform="translate(331.90,59.51)" d="M0,0 H5.60 V-1.8 H4.35 V-14.60 H2.05 C1.65,-13.30 0.65,-12.60 -0.45,-12.20 V-9.90 C0.35,-10.10 1.05,-10.40 1.55,-10.90 V-1.8 H0 Z" fill="#000"/>
<circle cx="343.65" cy="57.86" r="1.7" fill="#000"/>
<path d="M348.5,50.1 C348.5,49.7 348.2,48.8 348.5,48.2 C348.7,47.6 349.3,46.9 350.0,46.6 C350.6,46.2 351.5,46.0 352.4,46.0 C353.3,46.0 354.5,46.3 355.2,46.7 C355.9,47.1 356.3,47.8 356.4,48.5 C356.6,49.1 356.6,49.9 356.3,50.6 C355.9,51.3 355.3,51.9 354.5,52.5 C353.6,53.1 352.0,53.6 351.0,54.2 C350.0,54.8 349.1,55.4 348.6,56.1 C348.1,56.7 348.1,57.8 348.0,58.1 M348.0,58.1 C348.2,58.0 348.8,57.1 349.4,57.0 C350.0,56.9 350.9,57.2 351.6,57.5 C352.4,57.7 353.4,58.5 354.1,58.6 C354.8,58.7 355.5,58.5 356.0,58.1 C356.4,57.8 356.6,56.7 356.7,56.4" fill="none" stroke="#000" stroke-width="2.5" stroke-linecap="round" stroke-linejoin="round"/>
<path transform="translate(349.55,106.98)" d="M0,0 H6.00 V-1.8 H4.50 V-14.90 H2.30 C1.90,-13.60 0.90,-12.90 -0.20,-12.50 V-10.20 C0.60,-10.40 1.30,-10.70 1.80,-11.20 V-1.8 H0 Z" fill="#000"/>
<text transform="matrix(1.0534 0 0 0.9852 328.80 153.47)" font-family="Liberation Sans, sans-serif" font-weight="normal" font-size="20" fill="#000" stroke="#000" stroke-width="0.93" stroke-linejoin="round">0.8</text>
<path transform="translate(332.00,201.00)" d="M0,0 H5.50 V-1.8 H4.30 V-14.60 H2.00 C1.60,-13.30 0.60,-12.60 -0.50,-12.20 V-9.90 C0.30,-10.10 1.00,-10.40 1.50,-10.90 V-1.8 H0 Z" fill="#000"/>
<circle cx="343.55" cy="199.35" r="1.7" fill="#000"/>
<text transform="matrix(0.9327 0 0 0.9593 346.72 200.40)" font-family="Liberation Sans, sans-serif" font-weight="normal" font-size="20" fill="#000" stroke="#000" stroke-width="1.27" stroke-linejoin="round">4</text>
<rect x="351.70" y="199.30" width="4.5" height="1.75" fill="#000"/>
<path transform="translate(331.90,248.01)" d="M0,0 H5.60 V-1.8 H4.35 V-14.60 H2.05 C1.65,-13.30 0.65,-12.60 -0.45,-12.20 V-9.90 C0.35,-10.10 1.05,-10.40 1.55,-10.90 V-1.8 H0 Z" fill="#000"/>
<circle cx="343.65" cy="246.36" r="1.7" fill="#000"/>
<path d="M348.5,238.6 C348.5,238.2 348.2,237.3 348.5,236.7 C348.7,236.1 349.3,235.4 350.0,235.1 C350.6,234.7 351.5,234.5 352.4,234.5 C353.3,234.5 354.5,234.8 355.2,235.2 C355.9,235.6 356.3,236.3 356.4,237.0 C356.6,237.6 356.6,238.4 356.3,239.1 C355.9,239.8 355.3,240.4 354.5,241.0 C353.6,241.6 352.0,242.1 351.0,242.7 C350.0,243.3 349.1,243.9 348.6,244.6 C348.1,245.2 348.1,246.3 348.0,246.6 M348.0,246.6 C348.2,246.5 348.8,245.6 349.4,245.5 C350.0,245.4 350.9,245.7 351.6,246.0 C352.4,246.2 353.4,247.0 354.1,247.1 C354.8,247.2 355.5,247.0 356.0,246.6 C356.4,246.3 356.6,245.2 356.7,244.9" fill="none" stroke="#000" stroke-width="2.5" stroke-linecap="round" stroke-linejoin="round"/>
<path transform="translate(349.55,295.47)" d="M0,0 H6.00 V-1.8 H4.50 V-14.90 H2.30 C1.90,-13.60 0.90,-12.90 -0.20,-12.50 V-10.20 C0.60,-10.40 1.30,-10.70 1.80,-11.20 V-1.8 H0 Z" fill="#000"/>
<text transform="matrix(1.0534 0 0 0.9852 328.80 341.97)" font-family="Liberation Sans, sans-serif" font-weight="normal" font-size="20" fill="#000" stroke="#000" stroke-width="0.93" stroke-linejoin="round">0.8</text>
<path transform="translate(332.00,389.45)" d="M0,0 H5.50 V-1.8 H4.30 V-14.60 H2.00 C1.60,-13.30 0.60,-12.60 -0.50,-12.20 V-9.90 C0.30,-10.10 1.00,-10.40 1.50,-10.90 V-1.8 H0 Z" fill="#000"/>
<circle cx="343.55" cy="387.80" r="1.7" fill="#000"/>
<text transform="matrix(0.9327 0 0 0.9593 346.72 388.85)" font-family="Liberation Sans, sans-serif" font-weight="normal" font-size="20" fill="#000" stroke="#000" stroke-width="1.27" stroke-linejoin="round">4</text>
<rect x="351.70" y="387.75" width="4.5" height="1.75" fill="#000"/>
<path transform="translate(331.90,436.46)" d="M0,0 H5.60 V-1.8 H4.35 V-14.60 H2.05 C1.65,-13.30 0.65,-12.60 -0.45,-12.20 V-9.90 C0.35,-10.10 1.05,-10.40 1.55,-10.90 V-1.8 H0 Z" fill="#000"/>
<circle cx="343.65" cy="434.81" r="1.7" fill="#000"/>
<path d="M348.5,427.0 C348.5,426.7 348.2,425.7 348.5,425.1 C348.7,424.5 349.3,423.9 350.0,423.5 C350.6,423.2 351.5,422.9 352.4,423.0 C353.3,423.0 354.5,423.2 355.2,423.6 C355.9,424.0 356.3,424.7 356.4,425.4 C356.6,426.1 356.6,426.9 356.3,427.6 C355.9,428.2 355.3,428.9 354.5,429.4 C353.6,430.0 352.0,430.5 351.0,431.1 C350.0,431.7 349.1,432.4 348.6,433.0 C348.1,433.7 348.1,434.7 348.0,435.1 M348.0,435.1 C348.2,434.9 348.8,434.1 349.4,434.0 C350.0,433.9 350.9,434.2 351.6,434.4 C352.4,434.7 353.4,435.4 354.1,435.6 C354.8,435.7 355.5,435.5 356.0,435.1 C356.4,434.7 356.6,433.6 356.7,433.3" fill="none" stroke="#000" stroke-width="2.5" stroke-linecap="round" stroke-linejoin="round"/>
<path transform="translate(349.55,483.93)" d="M0,0 H6.00 V-1.8 H4.50 V-14.90 H2.30 C1.90,-13.60 0.90,-12.90 -0.20,-12.50 V-10.20 C0.60,-10.40 1.30,-10.70 1.80,-11.20 V-1.8 H0 Z" fill="#000"/>
<text transform="matrix(1.0534 0 0 0.9852 328.80 530.42)" font-family="Liberation Sans, sans-serif" font-weight="normal" font-size="20" fill="#000" stroke="#000" stroke-width="0.93" stroke-linejoin="round">0.8</text>
<text transform="matrix(0.9989 0 0 0.9710 363.74 594.59)" font-family="Liberation Sans, sans-serif" font-weight="normal" font-size="20" fill="#000" stroke="#000" stroke-width="0.96" stroke-linejoin="round">0</text>
<text transform="matrix(1.0446 0 0 0.9710 437.31 594.59)" font-family="Liberation Sans, sans-serif" font-weight="normal" font-size="20" fill="#000" stroke="#000" stroke-width="0.94" stroke-linejoin="round">0.5</text>
<path transform="translate(531.70,595.20)" d="M0,0 H6.00 V-1.8 H4.50 V-14.90 H2.30 C1.90,-13.60 0.90,-12.90 -0.20,-12.50 V-10.20 C0.60,-10.40 1.30,-10.70 1.80,-11.20 V-1.8 H0 Z" fill="#000"/>
<text transform="matrix(1.0609 0 0 1.0789 447.25 616.20)" font-family="Liberation Sans, sans-serif" font-weight="bold" font-size="20" fill="#000" stroke="#000" stroke-width="0.84" stroke-linejoin="round">x</text>
<text transform="matrix(0.6395 0 0 0.7558 460.39 623.15)" font-family="Liberation Sans, sans-serif" font-weight="bold" font-size="20" fill="#000" stroke="#000" stroke-width="0.86" stroke-linejoin="round">B</text>
<path transform="translate(614.40,12.50)" d="M0,0 H5.50 V-1.8 H4.30 V-14.60 H2.00 C1.60,-13.30 0.60,-12.60 -0.50,-12.20 V-9.90 C0.30,-10.10 1.00,-10.40 1.50,-10.90 V-1.8 H0 Z" fill="#000"/>
<circle cx="625.95" cy="10.85" r="1.7" fill="#000"/>
<text transform="matrix(0.9327 0 0 0.9593 629.12 11.90)" font-family="Liberation Sans, sans-serif" font-weight="normal" font-size="20" fill="#000" stroke="#000" stroke-width="1.27" stroke-linejoin="round">4</text>
<rect x="634.10" y="10.80" width="4.5" height="1.75" fill="#000"/>
<path transform="translate(614.30,59.51)" d="M0,0 H5.60 V-1.8 H4.35 V-14.60 H2.05 C1.65,-13.30 0.65,-12.60 -0.45,-12.20 V-9.90 C0.35,-10.10 1.05,-10.40 1.55,-10.90 V-1.8 H0 Z" fill="#000"/>
<circle cx="626.05" cy="57.86" r="1.7" fill="#000"/>
<path d="M630.9,50.1 C630.9,49.7 630.6,48.8 630.9,48.2 C631.1,47.6 631.7,46.9 632.4,46.6 C633.0,46.2 633.9,46.0 634.8,46.0 C635.7,46.0 636.9,46.3 637.6,46.7 C638.3,47.1 638.7,47.8 638.8,48.5 C639.0,49.1 639.0,49.9 638.7,50.6 C638.3,51.3 637.7,51.9 636.9,52.5 C636.0,53.1 634.4,53.6 633.4,54.2 C632.4,54.8 631.5,55.4 631.0,56.1 C630.5,56.7 630.5,57.8 630.4,58.1 M630.4,58.1 C630.6,58.0 631.2,57.1 631.8,57.0 C632.4,56.9 633.3,57.2 634.0,57.5 C634.8,57.7 635.8,58.5 636.5,58.6 C637.2,58.7 637.9,58.5 638.4,58.1 C638.8,57.8 639.0,56.7 639.1,56.4" fill="none" stroke="#000" stroke-width="2.5" stroke-linecap="round" stroke-linejoin="round"/>
<path transform="translate(631.95,106.98)" d="M0,0 H6.00 V-1.8 H4.50 V-14.90 H2.30 C1.90,-13.60 0.90,-12.90 -0.20,-12.50 V-10.20 C0.60,-10.40 1.30,-10.70 1.80,-11.20 V-1.8 H0 Z" fill="#000"/>
<text transform="matrix(1.0534 0 0 0.9852 611.20 153.47)" font-family="Liberation Sans, sans-serif" font-weight="normal" font-size="20" fill="#000" stroke="#000" stroke-width="0.93" stroke-linejoin="round">0.8</text>
<path transform="translate(614.40,201.00)" d="M0,0 H5.50 V-1.8 H4.30 V-14.60 H2.00 C1.60,-13.30 0.60,-12.60 -0.50,-12.20 V-9.90 C0.30,-10.10 1.00,-10.40 1.50,-10.90 V-1.8 H0 Z" fill="#000"/>
<circle cx="625.95" cy="199.35" r="1.7" fill="#000"/>
<text transform="matrix(0.9327 0 0 0.9593 629.12 200.40)" font-family="Liberation Sans, sans-serif" font-weight="normal" font-size="20" fill="#000" stroke="#000" stroke-width="1.27" stroke-linejoin="round">4</text>
<rect x="634.10" y="199.30" width="4.5" height="1.75" fill="#000"/>
<path transform="translate(614.30,248.01)" d="M0,0 H5.60 V-1.8 H4.35 V-14.60 H2.05 C1.65,-13.30 0.65,-12.60 -0.45,-12.20 V-9.90 C0.35,-10.10 1.05,-10.40 1.55,-10.90 V-1.8 H0 Z" fill="#000"/>
<circle cx="626.05" cy="246.36" r="1.7" fill="#000"/>
<path d="M630.9,238.6 C630.9,238.2 630.6,237.3 630.9,236.7 C631.1,236.1 631.7,235.4 632.4,235.1 C633.0,234.7 633.9,234.5 634.8,234.5 C635.7,234.5 636.9,234.8 637.6,235.2 C638.3,235.6 638.7,236.3 638.8,237.0 C639.0,237.6 639.0,238.4 638.7,239.1 C638.3,239.8 637.7,240.4 636.9,241.0 C636.0,241.6 634.4,242.1 633.4,242.7 C632.4,243.3 631.5,243.9 631.0,244.6 C630.5,245.2 630.5,246.3 630.4,246.6 M630.4,246.6 C630.6,246.5 631.2,245.6 631.8,245.5 C632.4,245.4 633.3,245.7 634.0,246.0 C634.8,246.2 635.8,247.0 636.5,247.1 C637.2,247.2 637.9,247.0 638.4,246.6 C638.8,246.3 639.0,245.2 639.1,244.9" fill="none" stroke="#000" stroke-width="2.5" stroke-linecap="round" stroke-linejoin="round"/>
<path transform="translate(631.95,295.47)" d="M0,0 H6.00 V-1.8 H4.50 V-14.90 H2.30 C1.90,-13.60 0.90,-12.90 -0.20,-12.50 V-10.20 C0.60,-10.40 1.30,-10.70 1.80,-11.20 V-1.8 H0 Z" fill="#000"/>
<text transform="matrix(1.0534 0 0 0.9852 611.20 341.97)" font-family="Liberation Sans, sans-serif" font-weight="normal" font-size="20" fill="#000" stroke="#000" stroke-width="0.93" stroke-linejoin="round">0.8</text>
<path transform="translate(614.40,389.45)" d="M0,0 H5.50 V-1.8 H4.30 V-14.60 H2.00 C1.60,-13.30 0.60,-12.60 -0.50,-12.20 V-9.90 C0.30,-10.10 1.00,-10.40 1.50,-10.90 V-1.8 H0 Z" fill="#000"/>
<circle cx="625.95" cy="387.80" r="1.7" fill="#000"/>
<text transform="matrix(0.9327 0 0 0.9593 629.12 388.85)" font-family="Liberation Sans, sans-serif" font-weight="normal" font-size="20" fill="#000" stroke="#000" stroke-width="1.27" stroke-linejoin="round">4</text>
<rect x="634.10" y="387.75" width="4.5" height="1.75" fill="#000"/>
<path transform="translate(614.30,436.46)" d="M0,0 H5.60 V-1.8 H4.35 V-14.60 H2.05 C1.65,-13.30 0.65,-12.60 -0.45,-12.20 V-9.90 C0.35,-10.10 1.05,-10.40 1.55,-10.90 V-1.8 H0 Z" fill="#000"/>
<circle cx="626.05" cy="434.81" r="1.7" fill="#000"/>
<path d="M630.9,427.0 C630.9,426.7 630.6,425.7 630.9,425.1 C631.1,424.5 631.7,423.9 632.4,423.5 C633.0,423.2 633.9,422.9 634.8,423.0 C635.7,423.0 636.9,423.2 637.6,423.6 C638.3,424.0 638.7,424.7 638.8,425.4 C639.0,426.1 639.0,426.9 638.7,427.6 C638.3,428.2 637.7,428.9 636.9,429.4 C636.0,430.0 634.4,430.5 633.4,431.1 C632.4,431.7 631.5,432.4 631.0,433.0 C630.5,433.7 630.5,434.7 630.4,435.1 M630.4,435.1 C630.6,434.9 631.2,434.1 631.8,434.0 C632.4,433.9 633.3,434.2 634.0,434.4 C634.8,434.7 635.8,435.4 636.5,435.6 C637.2,435.7 637.9,435.5 638.4,435.1 C638.8,434.7 639.0,433.6 639.1,433.3" fill="none" stroke="#000" stroke-width="2.5" stroke-linecap="round" stroke-linejoin="round"/>
<path transform="translate(631.95,483.93)" d="M0,0 H6.00 V-1.8 H4.50 V-14.90 H2.30 C1.90,-13.60 0.90,-12.90 -0.20,-12.50 V-10.20 C0.60,-10.40 1.30,-10.70 1.80,-11.20 V-1.8 H0 Z" fill="#000"/>
<text transform="matrix(1.0534 0 0 0.9852 611.20 530.42)" font-family="Liberation Sans, sans-serif" font-weight="normal" font-size="20" fill="#000" stroke="#000" stroke-width="0.93" stroke-linejoin="round">0.8</text>
<text transform="matrix(0.9989 0 0 0.9710 646.14 594.59)" font-family="Liberation Sans, sans-serif" font-weight="normal" font-size="20" fill="#000" stroke="#000" stroke-width="0.96" stroke-linejoin="round">0</text>
<text transform="matrix(1.0446 0 0 0.9710 719.71 594.59)" font-family="Liberation Sans, sans-serif" font-weight="normal" font-size="20" fill="#000" stroke="#000" stroke-width="0.94" stroke-linejoin="round">0.5</text>
<path transform="translate(814.10,595.20)" d="M0,0 H6.00 V-1.8 H4.50 V-14.90 H2.30 C1.90,-13.60 0.90,-12.90 -0.20,-12.50 V-10.20 C0.60,-10.40 1.30,-10.70 1.80,-11.20 V-1.8 H0 Z" fill="#000"/>
<text transform="matrix(1.0609 0 0 1.0789 729.65 616.20)" font-family="Liberation Sans, sans-serif" font-weight="bold" font-size="20" fill="#000" stroke="#000" stroke-width="0.84" stroke-linejoin="round">x</text>
<text transform="matrix(0.6395 0 0 0.7558 742.79 623.15)" font-family="Liberation Sans, sans-serif" font-weight="bold" font-size="20" fill="#000" stroke="#000" stroke-width="0.86" stroke-linejoin="round">B</text>
<text transform="matrix(0.6788 0 0 0.8038 104.19 35.89)" font-family="Liberation Serif, serif" font-weight="bold" font-size="20" fill="#000" stroke="#000" stroke-width="1.35" stroke-linejoin="round">Q</text>
<text transform="matrix(0.6024 0 0 0.4833 114.69 31.00)" font-family="Liberation Serif, serif" font-weight="bold" font-size="20" fill="#000" stroke="#000" stroke-width="1.66" stroke-linejoin="round">2</text>
<path d="M122.20,28.90h9.1v1.9h-9.1z M122.20,32.05h9.1v1.9h-9.1z" fill="#000"/>
<path transform="translate(136.00,36.60)" d="M0,0 H4.90 V-1.8 H3.85 V-12.00 H1.85 C1.45,-10.70 0.45,-10.00 -0.65,-9.60 V-7.30 C0.15,-7.50 0.85,-7.80 1.35,-8.30 V-1.8 H0 Z" fill="#000"/>
<text transform="matrix(0.5202 0 0 0.7367 151.34 36.01)" font-family="Liberation Serif, serif" font-weight="bold" font-size="20" fill="#000" stroke="#000" stroke-width="1.59" stroke-linejoin="round">G</text>
<text transform="matrix(0.8077 0 0 0.6465 160.50 35.93)" font-family="Liberation Serif, serif" font-weight="bold" font-size="20" fill="#000" stroke="#000" stroke-width="1.38" stroke-linejoin="round">e</text>
<text transform="matrix(0.5359 0 0 0.7314 168.73 36.03)" font-family="Liberation Serif, serif" font-weight="bold" font-size="20" fill="#000" stroke="#000" stroke-width="1.58" stroke-linejoin="round">V</text>
<text transform="matrix(0.4457 0 0 0.4758 177.33 32.10)" font-family="Liberation Serif, serif" font-weight="bold" font-size="20" fill="#000" stroke="#000" stroke-width="1.95" stroke-linejoin="round">2</text>
<text transform="matrix(0.6788 0 0 0.8038 386.39 123.39)" font-family="Liberation Serif, serif" font-weight="bold" font-size="20" fill="#000" stroke="#000" stroke-width="1.35" stroke-linejoin="round">Q</text>
<text transform="matrix(0.6024 0 0 0.4833 396.89 118.50)" font-family="Liberation Serif, serif" font-weight="bold" font-size="20" fill="#000" stroke="#000" stroke-width="1.66" stroke-linejoin="round">2</text>
<path d="M404.40,116.40h9.1v1.9h-9.1z M404.40,119.55h9.1v1.9h-9.1z" fill="#000"/>
<path transform="translate(418.20,124.10)" d="M0,0 H4.90 V-1.8 H3.85 V-12.00 H1.85 C1.45,-10.70 0.45,-10.00 -0.65,-9.60 V-7.30 C0.15,-7.50 0.85,-7.80 1.35,-8.30 V-1.8 H0 Z" fill="#000"/>
<text transform="matrix(0.5202 0 0 0.7367 433.54 123.51)" font-family="Liberation Serif, serif" font-weight="bold" font-size="20" fill="#000" stroke="#000" stroke-width="1.59" stroke-linejoin="round">G</text>
<text transform="matrix(0.8077 0 0 0.6465 442.70 123.43)" font-family="Liberation Serif, serif" font-weight="bold" font-size="20" fill="#000" stroke="#000" stroke-width="1.38" stroke-linejoin="round">e</text>
<text transform="matrix(0.5359 0 0 0.7314 450.93 123.53)" font-family="Liberation Serif, serif" font-weight="bold" font-size="20" fill="#000" stroke="#000" stroke-width="1.58" stroke-linejoin="round">V</text>
<text transform="matrix(0.4457 0 0 0.4758 459.53 119.60)" font-family="Liberation Serif, serif" font-weight="bold" font-size="20" fill="#000" stroke="#000" stroke-width="1.95" stroke-linejoin="round">2</text>
<text transform="matrix(0.6788 0 0 0.8038 668.99 35.89)" font-family="Liberation Serif, serif" font-weight="bold" font-size="20" fill="#000" stroke="#000" stroke-width="1.35" stroke-linejoin="round">Q</text>
<text transform="matrix(0.6024 0 0 0.4833 679.49 31.00)" font-family="Liberation Serif, serif" font-weight="bold" font-size="20" fill="#000" stroke="#000" stroke-width="1.66" stroke-linejoin="round">2</text>
<path d="M687.00,28.90h9.1v1.9h-9.1z M687.00,32.05h9.1v1.9h-9.1z" fill="#000"/>
<path transform="translate(700.80,36.60)" d="M0,0 H4.90 V-1.8 H3.85 V-12.00 H1.85 C1.45,-10.70 0.45,-10.00 -0.65,-9.60 V-7.30 C0.15,-7.50 0.85,-7.80 1.35,-8.30 V-1.8 H0 Z" fill="#000"/>
<text transform="matrix(0.5202 0 0 0.7367 716.14 36.01)" font-family="Liberation Serif, serif" font-weight="bold" font-size="20" fill="#000" stroke="#000" stroke-width="1.59" stroke-linejoin="round">G</text>
<text transform="matrix(0.8077 0 0 0.6465 725.30 35.93)" font-family="Liberation Serif, serif" font-weight="bold" font-size="20" fill="#000" stroke="#000" stroke-width="1.38" stroke-linejoin="round">e</text>
<text transform="matrix(0.5359 0 0 0.7314 733.53 36.03)" font-family="Liberation Serif, serif" font-weight="bold" font-size="20" fill="#000" stroke="#000" stroke-width="1.58" stroke-linejoin="round">V</text>
<text transform="matrix(0.4457 0 0 0.4758 742.13 32.10)" font-family="Liberation Serif, serif" font-weight="bold" font-size="20" fill="#000" stroke="#000" stroke-width="1.95" stroke-linejoin="round">2</text>
<text transform="matrix(0.6788 0 0 0.8038 111.79 224.59)" font-family="Liberation Serif, serif" font-weight="bold" font-size="20" fill="#000" stroke="#000" stroke-width="1.35" stroke-linejoin="round">Q</text>
<text transform="matrix(0.6024 0 0 0.4833 122.29 219.70)" font-family="Liberation Serif, serif" font-weight="bold" font-size="20" fill="#000" stroke="#000" stroke-width="1.66" stroke-linejoin="round">2</text>
<path d="M129.80,217.60h9.1v1.9h-9.1z M129.80,220.75h9.1v1.9h-9.1z" fill="#000"/>
<text transform="matrix(0.8964 0 0 0.8192 141.12 224.74)" font-family="Liberation Sans, sans-serif" font-weight="normal" font-size="20" fill="#000" stroke="#000" stroke-width="1.05" stroke-linejoin="round">3</text>
<text transform="matrix(0.5202 0 0 0.7367 159.34 224.71)" font-family="Liberation Serif, serif" font-weight="bold" font-size="20" fill="#000" stroke="#000" stroke-width="1.59" stroke-linejoin="round">G</text>
<text transform="matrix(0.8077 0 0 0.6465 168.50 224.63)" font-family="Liberation Serif, serif" font-weight="bold" font-size="20" fill="#000" stroke="#000" stroke-width="1.38" stroke-linejoin="round">e</text>
<text transform="matrix(0.5359 0 0 0.7314 176.73 224.73)" font-family="Liberation Serif, serif" font-weight="bold" font-size="20" fill="#000" stroke="#000" stroke-width="1.58" stroke-linejoin="round">V</text>
<text transform="matrix(0.4457 0 0 0.4758 185.33 220.80)" font-family="Liberation Serif, serif" font-weight="bold" font-size="20" fill="#000" stroke="#000" stroke-width="1.95" stroke-linejoin="round">2</text>
<text transform="matrix(0.6788 0 0 0.8038 394.09 311.99)" font-family="Liberation Serif, serif" font-weight="bold" font-size="20" fill="#000" stroke="#000" stroke-width="1.35" stroke-linejoin="round">Q</text>
<text transform="matrix(0.6024 0 0 0.4833 404.59 307.10)" font-family="Liberation Serif, serif" font-weight="bold" font-size="20" fill="#000" stroke="#000" stroke-width="1.66" stroke-linejoin="round">2</text>
<path d="M412.10,305.00h9.1v1.9h-9.1z M412.10,308.15h9.1v1.9h-9.1z" fill="#000"/>
<text transform="matrix(0.8964 0 0 0.8192 423.42 312.14)" font-family="Liberation Sans, sans-serif" font-weight="normal" font-size="20" fill="#000" stroke="#000" stroke-width="1.05" stroke-linejoin="round">3</text>
<text transform="matrix(0.5202 0 0 0.7367 441.64 312.11)" font-family="Liberation Serif, serif" font-weight="bold" font-size="20" fill="#000" stroke="#000" stroke-width="1.59" stroke-linejoin="round">G</text>
<text transform="matrix(0.8077 0 0 0.6465 450.80 312.03)" font-family="Liberation Serif, serif" font-weight="bold" font-size="20" fill="#000" stroke="#000" stroke-width="1.38" stroke-linejoin="round">e</text>
<text transform="matrix(0.5359 0 0 0.7314 459.03 312.13)" font-family="Liberation Serif, serif" font-weight="bold" font-size="20" fill="#000" stroke="#000" stroke-width="1.58" stroke-linejoin="round">V</text>
<text transform="matrix(0.4457 0 0 0.4758 467.63 308.20)" font-family="Liberation Serif, serif" font-weight="bold" font-size="20" fill="#000" stroke="#000" stroke-width="1.95" stroke-linejoin="round">2</text>
<text transform="matrix(0.6788 0 0 0.8038 676.59 224.59)" font-family="Liberation Serif, serif" font-weight="bold" font-size="20" fill="#000" stroke="#000" stroke-width="1.35" stroke-linejoin="round">Q</text>
<text transform="matrix(0.6024 0 0 0.4833 687.09 219.70)" font-family="Liberation Serif, serif" font-weight="bold" font-size="20" fill="#000" stroke="#000" stroke-width="1.66" stroke-linejoin="round">2</text>
<path d="M694.60,217.60h9.1v1.9h-9.1z M694.60,220.75h9.1v1.9h-9.1z" fill="#000"/>
<text transform="matrix(0.8964 0 0 0.8192 705.92 224.74)" font-family="Liberation Sans, sans-serif" font-weight="normal" font-size="20" fill="#000" stroke="#000" stroke-width="1.05" stroke-linejoin="round">3</text>
<text transform="matrix(0.5202 0 0 0.7367 724.14 224.71)" font-family="Liberation Serif, serif" font-weight="bold" font-size="20" fill="#000" stroke="#000" stroke-width="1.59" stroke-linejoin="round">G</text>
<text transform="matrix(0.8077 0 0 0.6465 733.30 224.63)" font-family="Liberation Serif, serif" font-weight="bold" font-size="20" fill="#000" stroke="#000" stroke-width="1.38" stroke-linejoin="round">e</text>
<text transform="matrix(0.5359 0 0 0.7314 741.53 224.73)" font-family="Liberation Serif, serif" font-weight="bold" font-size="20" fill="#000" stroke="#000" stroke-width="1.58" stroke-linejoin="round">V</text>
<text transform="matrix(0.4457 0 0 0.4758 750.13 220.80)" font-family="Liberation Serif, serif" font-weight="bold" font-size="20" fill="#000" stroke="#000" stroke-width="1.95" stroke-linejoin="round">2</text>
<text transform="matrix(0.6788 0 0 0.8038 111.69 413.09)" font-family="Liberation Serif, serif" font-weight="bold" font-size="20" fill="#000" stroke="#000" stroke-width="1.35" stroke-linejoin="round">Q</text>
<text transform="matrix(0.6024 0 0 0.4833 122.19 408.20)" font-family="Liberation Serif, serif" font-weight="bold" font-size="20" fill="#000" stroke="#000" stroke-width="1.66" stroke-linejoin="round">2</text>
<path d="M129.70,406.10h9.1v1.9h-9.1z M129.70,409.25h9.1v1.9h-9.1z" fill="#000"/>
<path transform="translate(144.30,413.80)" d="M0,0 H4.80 V-1.8 H3.80 V-11.90 H1.80 C1.40,-10.60 0.40,-9.90 -0.70,-9.50 V-7.20 C0.10,-7.40 0.80,-7.70 1.30,-8.20 V-1.8 H0 Z" fill="#000"/>
<text transform="matrix(0.8966 0 0 0.8076 151.42 413.14)" font-family="Liberation Serif, serif" font-weight="bold" font-size="20" fill="#000" stroke="#000" stroke-width="1.06" stroke-linejoin="round">0</text>
<text transform="matrix(0.5202 0 0 0.7367 169.14 413.21)" font-family="Liberation Serif, serif" font-weight="bold" font-size="20" fill="#000" stroke="#000" stroke-width="1.59" stroke-linejoin="round">G</text>
<text transform="matrix(0.8077 0 0 0.6465 178.30 413.13)" font-family="Liberation Serif, serif" font-weight="bold" font-size="20" fill="#000" stroke="#000" stroke-width="1.38" stroke-linejoin="round">e</text>
<text transform="matrix(0.5359 0 0 0.7314 186.53 413.23)" font-family="Liberation Serif, serif" font-weight="bold" font-size="20" fill="#000" stroke="#000" stroke-width="1.58" stroke-linejoin="round">V</text>
<text transform="matrix(0.4457 0 0 0.4758 195.13 409.30)" font-family="Liberation Serif, serif" font-weight="bold" font-size="20" fill="#000" stroke="#000" stroke-width="1.95" stroke-linejoin="round">2</text>
<text transform="matrix(0.6788 0 0 0.8038 394.09 500.29)" font-family="Liberation Serif, serif" font-weight="bold" font-size="20" fill="#000" stroke="#000" stroke-width="1.35" stroke-linejoin="round">Q</text>
<text transform="matrix(0.6024 0 0 0.4833 404.59 495.40)" font-family="Liberation Serif, serif" font-weight="bold" font-size="20" fill="#000" stroke="#000" stroke-width="1.66" stroke-linejoin="round">2</text>
<path d="M412.10,493.30h9.1v1.9h-9.1z M412.10,496.45h9.1v1.9h-9.1z" fill="#000"/>
<path transform="translate(426.70,501.00)" d="M0,0 H4.80 V-1.8 H3.80 V-11.90 H1.80 C1.40,-10.60 0.40,-9.90 -0.70,-9.50 V-7.20 C0.10,-7.40 0.80,-7.70 1.30,-8.20 V-1.8 H0 Z" fill="#000"/>
<text transform="matrix(0.8966 0 0 0.8076 433.82 500.34)" font-family="Liberation Serif, serif" font-weight="bold" font-size="20" fill="#000" stroke="#000" stroke-width="1.06" stroke-linejoin="round">0</text>
<text transform="matrix(0.5202 0 0 0.7367 451.54 500.41)" font-family="Liberation Serif, serif" font-weight="bold" font-size="20" fill="#000" stroke="#000" stroke-width="1.59" stroke-linejoin="round">G</text>
<text transform="matrix(0.8077 0 0 0.6465 460.70 500.33)" font-family="Liberation Serif, serif" font-weight="bold" font-size="20" fill="#000" stroke="#000" stroke-width="1.38" stroke-linejoin="round">e</text>
<text transform="matrix(0.5359 0 0 0.7314 468.93 500.43)" font-family="Liberation Serif, serif" font-weight="bold" font-size="20" fill="#000" stroke="#000" stroke-width="1.58" stroke-linejoin="round">V</text>
<text transform="matrix(0.4457 0 0 0.4758 477.53 496.50)" font-family="Liberation Serif, serif" font-weight="bold" font-size="20" fill="#000" stroke="#000" stroke-width="1.95" stroke-linejoin="round">2</text>
<text transform="matrix(0.6788 0 0 0.8038 676.49 413.09)" font-family="Liberation Serif, serif" font-weight="bold" font-size="20" fill="#000" stroke="#000" stroke-width="1.35" stroke-linejoin="round">Q</text>
<text transform="matrix(0.6024 0 0 0.4833 686.99 408.20)" font-family="Liberation Serif, serif" font-weight="bold" font-size="20" fill="#000" stroke="#000" stroke-width="1.66" stroke-linejoin="round">2</text>
<path d="M694.50,406.10h9.1v1.9h-9.1z M694.50,409.25h9.1v1.9h-9.1z" fill="#000"/>
<path transform="translate(709.10,413.80)" d="M0,0 H4.80 V-1.8 H3.80 V-11.90 H1.80 C1.40,-10.60 0.40,-9.90 -0.70,-9.50 V-7.20 C0.10,-7.40 0.80,-7.70 1.30,-8.20 V-1.8 H0 Z" fill="#000"/>
<text transform="matrix(0.8966 0 0 0.8076 716.22 413.14)" font-family="Liberation Serif, serif" font-weight="bold" font-size="20" fill="#000" stroke="#000" stroke-width="1.06" stroke-linejoin="round">0</text>
<text transform="matrix(0.5202 0 0 0.7367 733.94 413.21)" font-family="Liberation Serif, serif" font-weight="bold" font-size="20" fill="#000" stroke="#000" stroke-width="1.59" stroke-linejoin="round">G</text>
<text transform="matrix(0.8077 0 0 0.6465 743.10 413.13)" font-family="Liberation Serif, serif" font-weight="bold" font-size="20" fill="#000" stroke="#000" stroke-width="1.38" stroke-linejoin="round">e</text>
<text transform="matrix(0.5359 0 0 0.7314 751.33 413.23)" font-family="Liberation Serif, serif" font-weight="bold" font-size="20" fill="#000" stroke="#000" stroke-width="1.58" stroke-linejoin="round">V</text>
<text transform="matrix(0.4457 0 0 0.4758 759.93 409.30)" font-family="Liberation Serif, serif" font-weight="bold" font-size="20" fill="#000" stroke="#000" stroke-width="1.95" stroke-linejoin="round">2</text>
<line x1="128.1" y1="523.9" x2="178.3" y2="523.9" stroke="#ff0000" stroke-width="2.3" stroke-dasharray="10.2 11.4"/>
<line x1="128.1" y1="548.8" x2="178.3" y2="548.8" stroke="#0000ff" stroke-width="2.3"/>
<text transform="matrix(0.7204 0 0 0.9674 194.70 530.51)" font-family="Liberation Serif, serif" font-weight="bold" font-size="20" fill="#ff0000" stroke="#ff0000" stroke-width="1.07" stroke-linejoin="round">O</text>
<text transform="matrix(0.8489 0 0 0.9469 207.91 530.40)" font-family="Liberation Serif, serif" font-weight="bold" font-size="20" fill="#ff0000" stroke="#ff0000" stroke-width="1.00" stroke-linejoin="round">P</text>
<text transform="matrix(0.7517 0 0 0.9469 219.94 530.40)" font-family="Liberation Serif, serif" font-weight="bold" font-size="20" fill="#ff0000" stroke="#ff0000" stroke-width="1.06" stroke-linejoin="round">E</text>
<text transform="matrix(0.7536 0 0 0.9377 194.66 555.02)" font-family="Liberation Serif, serif" font-weight="bold" font-size="20" fill="#0000ff" stroke="#0000ff" stroke-width="1.06" stroke-linejoin="round">C</text>
<text transform="matrix(0.8060 0 0 0.9240 207.12 555.00)" font-family="Liberation Serif, serif" font-weight="bold" font-size="20" fill="#0000ff" stroke="#0000ff" stroke-width="1.04" stroke-linejoin="round">F</text>
<line x1="410.5" y1="523.9" x2="460.7" y2="523.9" stroke="#ff0000" stroke-width="2.3" stroke-dasharray="10.2 11.4"/>
<line x1="410.5" y1="548.8" x2="460.7" y2="548.8" stroke="#0000ff" stroke-width="2.3"/>
<text transform="matrix(0.7204 0 0 0.9674 477.10 530.51)" font-family="Liberation Serif, serif" font-weight="bold" font-size="20" fill="#ff0000" stroke="#ff0000" stroke-width="1.07" stroke-linejoin="round">O</text>
<text transform="matrix(0.8489 0 0 0.9469 490.31 530.40)" font-family="Liberation Serif, serif" font-weight="bold" font-size="20" fill="#ff0000" stroke="#ff0000" stroke-width="1.00" stroke-linejoin="round">P</text>
<text transform="matrix(0.7517 0 0 0.9469 502.34 530.40)" font-family="Liberation Serif, serif" font-weight="bold" font-size="20" fill="#ff0000" stroke="#ff0000" stroke-width="1.06" stroke-linejoin="round">E</text>
<text transform="matrix(0.7536 0 0 0.9377 477.06 555.02)" font-family="Liberation Serif, serif" font-weight="bold" font-size="20" fill="#0000ff" stroke="#0000ff" stroke-width="1.06" stroke-linejoin="round">C</text>
<text transform="matrix(0.8060 0 0 0.9240 489.52 555.00)" font-family="Liberation Serif, serif" font-weight="bold" font-size="20" fill="#0000ff" stroke="#0000ff" stroke-width="1.04" stroke-linejoin="round">F</text>
<line x1="692.9" y1="523.9" x2="743.1" y2="523.9" stroke="#ff0000" stroke-width="2.3" stroke-dasharray="10.2 11.4"/>
<line x1="692.9" y1="548.8" x2="743.1" y2="548.8" stroke="#0000ff" stroke-width="2.3"/>
<text transform="matrix(0.7204 0 0 0.9674 759.50 530.51)" font-family="Liberation Serif, serif" font-weight="bold" font-size="20" fill="#ff0000" stroke="#ff0000" stroke-width="1.07" stroke-linejoin="round">O</text>
<text transform="matrix(0.8489 0 0 0.9469 772.71 530.40)" font-family="Liberation Serif, serif" font-weight="bold" font-size="20" fill="#ff0000" stroke="#ff0000" stroke-width="1.00" stroke-linejoin="round">P</text>
<text transform="matrix(0.7517 0 0 0.9469 784.74 530.40)" font-family="Liberation Serif, serif" font-weight="bold" font-size="20" fill="#ff0000" stroke="#ff0000" stroke-width="1.06" stroke-linejoin="round">E</text>
<text transform="matrix(0.7536 0 0 0.9377 759.46 555.02)" font-family="Liberation Serif, serif" font-weight="bold" font-size="20" fill="#0000ff" stroke="#0000ff" stroke-width="1.06" stroke-linejoin="round">C</text>
<text transform="matrix(0.8060 0 0 0.9240 771.92 555.00)" font-family="Liberation Serif, serif" font-weight="bold" font-size="20" fill="#0000ff" stroke="#0000ff" stroke-width="1.04" stroke-linejoin="round">F</text>
<g transform="rotate(-90)">
<text transform="matrix(1.4841 0 0 1.3237 -338.08 25.49)" font-family="Liberation Serif, serif" font-weight="normal" font-size="20" fill="#000" stroke="#000" stroke-width="0.50" stroke-linejoin="round">g</text>
<path transform="translate(-320.15,33.55)" d="M0,0 H4.70 V-1.8 H3.60 V-12.60 H1.90 C1.50,-11.30 0.50,-10.60 -0.60,-10.20 V-7.90 C0.20,-8.10 0.90,-8.40 1.40,-8.90 V-1.8 H0 Z" fill="#000"/>
<text transform="matrix(1.4270 0 0 1.3100 -292.23 25.45)" font-family="Liberation Serif, serif" font-weight="normal" font-size="20" fill="#000" stroke="#000" stroke-width="0.51" stroke-linejoin="round">g</text>
<path transform="translate(-273.45,33.55)" d="M0,0 H4.50 V-1.8 H3.50 V-12.70 H1.80 C1.40,-11.40 0.40,-10.70 -0.70,-10.30 V-8.00 C0.10,-8.20 0.80,-8.50 1.30,-9.00 V-1.8 H0 Z" fill="#000"/>
<text transform="matrix(0.6619 0 0 0.8602 -274.93 15.99)" font-family="Liberation Serif, serif" font-weight="normal" font-size="20" fill="#000" stroke="#000" stroke-width="1.84" stroke-linejoin="round">(</text>
<text transform="matrix(0.8494 0 0 0.8595 -268.10 16.58)" font-family="Liberation Serif, serif" font-weight="normal" font-size="20" fill="#000" stroke="#000" stroke-width="1.17" stroke-linejoin="round">0</text>
<text transform="matrix(0.7398 0 0 0.8602 -257.73 15.99)" font-family="Liberation Serif, serif" font-weight="normal" font-size="20" fill="#000" stroke="#000" stroke-width="1.75" stroke-linejoin="round">)</text>
<text transform="matrix(1.3538 0 0 1.4585 -337.78 315.00)" font-family="Liberation Serif, serif" font-weight="normal" font-size="20" fill="#000" stroke="#000" stroke-width="0.50" stroke-linejoin="round">F</text>
<path transform="translate(-319.95,323.55)" d="M0,0 H4.50 V-1.8 H3.50 V-12.70 H1.80 C1.40,-11.40 0.40,-10.70 -0.70,-10.30 V-8.00 C0.10,-8.20 0.80,-8.50 1.30,-9.00 V-1.8 H0 Z" fill="#000"/>
<text transform="matrix(1.3843 0 0 1.4585 -291.20 315.00)" font-family="Liberation Serif, serif" font-weight="normal" font-size="20" fill="#000" stroke="#000" stroke-width="0.49" stroke-linejoin="round">F</text>
<path transform="translate(-272.45,323.35)" d="M0,0 H4.40 V-1.8 H3.45 V-12.70 H1.75 C1.35,-11.40 0.35,-10.70 -0.75,-10.30 V-8.00 C0.05,-8.20 0.75,-8.50 1.25,-9.00 V-1.8 H0 Z" fill="#000"/>
<text transform="matrix(0.6424 0 0 0.8602 -273.51 305.79)" font-family="Liberation Serif, serif" font-weight="normal" font-size="20" fill="#000" stroke="#000" stroke-width="1.86" stroke-linejoin="round">(</text>
<text transform="matrix(0.8612 0 0 0.8669 -267.31 306.48)" font-family="Liberation Serif, serif" font-weight="normal" font-size="20" fill="#000" stroke="#000" stroke-width="1.16" stroke-linejoin="round">0</text>
<text transform="matrix(0.6424 0 0 0.8602 -256.26 305.79)" font-family="Liberation Serif, serif" font-weight="normal" font-size="20" fill="#000" stroke="#000" stroke-width="1.86" stroke-linejoin="round">)</text>
<text transform="matrix(1.0406 0 0 1.3300 -337.64 595.30)" font-family="Liberation Sans, sans-serif" font-weight="normal" font-size="20" fill="#000" stroke="#000" stroke-width="0.76" stroke-linejoin="round">A</text>
<path transform="translate(-319.95,603.95)" d="M0,0 H4.50 V-1.8 H3.50 V-12.70 H1.80 C1.40,-11.40 0.40,-10.70 -0.70,-10.30 V-8.00 C0.10,-8.20 0.80,-8.50 1.30,-9.00 V-1.8 H0 Z" fill="#000"/>
<text transform="matrix(1.0330 0 0 1.3300 -292.04 595.30)" font-family="Liberation Sans, sans-serif" font-weight="normal" font-size="20" fill="#000" stroke="#000" stroke-width="0.76" stroke-linejoin="round">A</text>
<path transform="translate(-273.65,603.95)" d="M0,0 H4.50 V-1.8 H3.50 V-12.70 H1.80 C1.40,-11.40 0.40,-10.70 -0.70,-10.30 V-8.00 C0.10,-8.20 0.80,-8.50 1.30,-9.00 V-1.8 H0 Z" fill="#000"/>
<text transform="matrix(0.6424 0 0 0.8547 -273.81 585.81)" font-family="Liberation Serif, serif" font-weight="normal" font-size="20" fill="#000" stroke="#000" stroke-width="1.87" stroke-linejoin="round">(</text>
<text transform="matrix(0.8612 0 0 0.8595 -267.61 586.48)" font-family="Liberation Serif, serif" font-weight="normal" font-size="20" fill="#000" stroke="#000" stroke-width="1.16" stroke-linejoin="round">0</text>
<text transform="matrix(0.6424 0 0 0.8547 -256.56 585.81)" font-family="Liberation Serif, serif" font-weight="normal" font-size="20" fill="#000" stroke="#000" stroke-width="1.87" stroke-linejoin="round">)</text>
</g>
<path d="M30.8,309.5 L3.6,295.5 M320.0,309.5 L293.1,294.5 M600.0,309.5 L573.1,294.5" stroke="#000" stroke-width="2.2" fill="none"/>
</svg>
</body></html>
